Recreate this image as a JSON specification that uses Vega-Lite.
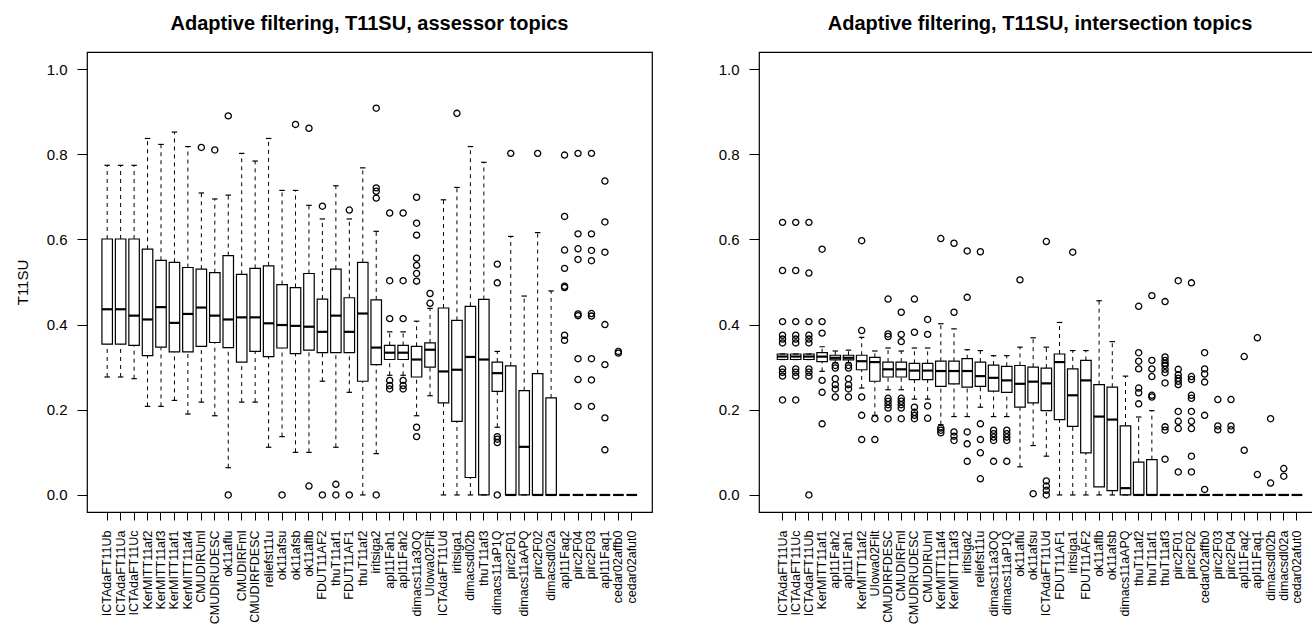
{
  "$schema": "https://vega.github.io/schema/vega-lite/v6.json",
  "background": "white",
  "padding": {"left": 14, "top": 13, "right": 0, "bottom": 0},
  "spacing": 64,
  "config": {
    "font": "Liberation Sans",
    "view": {"stroke": "black", "strokeWidth": 1.2},
    "axis": {"grid": false, "domain": false, "tickColor": "black", "labelColor": "black", "titleColor": "black", "labelFont": "Liberation Sans", "titleFont": "Liberation Sans", "titleFontWeight": "normal"},
    "axisY": {"tickSize": 10, "labelPadding": 10, "labelFontSize": 15, "titleFontSize": 15, "titlePadding": 16},
    "axisX": {"tickSize": 8, "labelPadding": 10, "labelFontSize": 12.5, "labelAngle": -90, "labelOverlap": false, "title": null},
    "title": {"fontSize": 20, "fontWeight": "bold", "font": "Liberation Sans", "color": "black", "anchor": "middle", "frame": "group", "offset": 18}
  },
  "datasets": {
    "boxA": [
      {"run": "ICTAdaFT11Ub", "lo": 0.277, "q1": 0.354, "med": 0.436, "q3": 0.601, "hi": 0.774},
      {"run": "ICTAdaFT11Ua", "lo": 0.277, "q1": 0.354, "med": 0.436, "q3": 0.601, "hi": 0.774},
      {"run": "ICTAdaFT11Uc", "lo": 0.273, "q1": 0.351, "med": 0.421, "q3": 0.601, "hi": 0.774},
      {"run": "KerMITT11af2", "lo": 0.208, "q1": 0.327, "med": 0.412, "q3": 0.577, "hi": 0.837},
      {"run": "KerMITT11af3", "lo": 0.208, "q1": 0.347, "med": 0.441, "q3": 0.551, "hi": 0.823},
      {"run": "KerMITT11af1", "lo": 0.222, "q1": 0.336, "med": 0.404, "q3": 0.546, "hi": 0.852},
      {"run": "KerMITT11af4", "lo": 0.190, "q1": 0.336, "med": 0.425, "q3": 0.534, "hi": 0.818},
      {"run": "CMUDIRUml", "lo": 0.218, "q1": 0.349, "med": 0.440, "q3": 0.530, "hi": 0.709},
      {"run": "CMUDIRUDESC", "lo": 0.186, "q1": 0.358, "med": 0.421, "q3": 0.522, "hi": 0.695},
      {"run": "ok11aflu", "lo": 0.064, "q1": 0.346, "med": 0.412, "q3": 0.562, "hi": 0.704},
      {"run": "CMUDIRFml", "lo": 0.218, "q1": 0.312, "med": 0.417, "q3": 0.518, "hi": 0.802},
      {"run": "CMUDIRFDESC", "lo": 0.218, "q1": 0.337, "med": 0.417, "q3": 0.532, "hi": 0.784},
      {"run": "reliefst11u", "lo": 0.112, "q1": 0.325, "med": 0.403, "q3": 0.538, "hi": 0.837},
      {"run": "ok11afsu", "lo": 0.137, "q1": 0.345, "med": 0.399, "q3": 0.494, "hi": 0.715},
      {"run": "ok11afsb", "lo": 0.100, "q1": 0.332, "med": 0.397, "q3": 0.487, "hi": 0.715},
      {"run": "ok11aflb", "lo": 0.100, "q1": 0.340, "med": 0.395, "q3": 0.520, "hi": 0.680},
      {"run": "FDUT11AF2", "lo": 0.267, "q1": 0.334, "med": 0.383, "q3": 0.460, "hi": 0.648},
      {"run": "thuT11af1", "lo": 0.112, "q1": 0.334, "med": 0.421, "q3": 0.530, "hi": 0.726},
      {"run": "FDUT11AF1", "lo": 0.241, "q1": 0.334, "med": 0.383, "q3": 0.463, "hi": 0.648},
      {"run": "thuT11af2", "lo": 0.0, "q1": 0.267, "med": 0.426, "q3": 0.546, "hi": 0.768},
      {"run": "iritsiga2", "lo": 0.097, "q1": 0.306, "med": 0.346, "q3": 0.458, "hi": 0.619},
      {"run": "apl11Fah1", "lo": 0.281, "q1": 0.318, "med": 0.334, "q3": 0.351, "hi": 0.383},
      {"run": "apl11Fah2", "lo": 0.281, "q1": 0.318, "med": 0.334, "q3": 0.351, "hi": 0.383},
      {"run": "dimacs11a3OQ", "lo": 0.186, "q1": 0.277, "med": 0.318, "q3": 0.349, "hi": 0.408},
      {"run": "UIowa02Filt", "lo": 0.233, "q1": 0.300, "med": 0.341, "q3": 0.357, "hi": 0.438},
      {"run": "ICTAdaFT11Ud", "lo": 0.0, "q1": 0.216, "med": 0.290, "q3": 0.439, "hi": 0.693},
      {"run": "iritsiga1", "lo": 0.0, "q1": 0.173, "med": 0.294, "q3": 0.410, "hi": 0.722},
      {"run": "dimacsdl02b", "lo": 0.0, "q1": 0.041, "med": 0.324, "q3": 0.443, "hi": 0.818},
      {"run": "thuT11af3", "lo": 0.0, "q1": 0.0, "med": 0.318, "q3": 0.459, "hi": 0.781},
      {"run": "dimacs11aP1Q", "lo": 0.159, "q1": 0.243, "med": 0.286, "q3": 0.312, "hi": 0.337},
      {"run": "pirc2F01", "lo": 0.0, "q1": 0.0, "med": 0.0, "q3": 0.303, "hi": 0.607},
      {"run": "dimacs11aAPQ", "lo": 0.0, "q1": 0.0, "med": 0.113, "q3": 0.245, "hi": 0.467},
      {"run": "pirc2F02", "lo": 0.0, "q1": 0.0, "med": 0.0, "q3": 0.285, "hi": 0.616},
      {"run": "dimacsdl02a", "lo": 0.0, "q1": 0.0, "med": 0.0, "q3": 0.228, "hi": 0.479},
      {"run": "apl11Faq2", "lo": 0.0, "q1": 0.0, "med": 0.0, "q3": 0.0, "hi": 0.0},
      {"run": "pirc2F04", "lo": 0.0, "q1": 0.0, "med": 0.0, "q3": 0.0, "hi": 0.0},
      {"run": "pirc2F03", "lo": 0.0, "q1": 0.0, "med": 0.0, "q3": 0.0, "hi": 0.0},
      {"run": "apl11Faq1", "lo": 0.0, "q1": 0.0, "med": 0.0, "q3": 0.0, "hi": 0.0},
      {"run": "cedar02affb0", "lo": 0.0, "q1": 0.0, "med": 0.0, "q3": 0.0, "hi": 0.0},
      {"run": "cedar02afut0", "lo": 0.0, "q1": 0.0, "med": 0.0, "q3": 0.0, "hi": 0.0}
    ],
    "outA": [
      {"run": "CMUDIRUml", "v": 0.816},
      {"run": "CMUDIRUDESC", "v": 0.810},
      {"run": "ok11aflu", "v": 0.890}, {"run": "ok11aflu", "v": 0.0},
      {"run": "ok11afsu", "v": 0.0},
      {"run": "ok11afsb", "v": 0.870},
      {"run": "ok11aflb", "v": 0.861}, {"run": "ok11aflb", "v": 0.021},
      {"run": "FDUT11AF2", "v": 0.678}, {"run": "FDUT11AF2", "v": 0.0},
      {"run": "thuT11af1", "v": 0.025}, {"run": "thuT11af1", "v": 0.0},
      {"run": "FDUT11AF1", "v": 0.669}, {"run": "FDUT11AF1", "v": 0.0},
      {"run": "iritsiga2", "v": 0.908}, {"run": "iritsiga2", "v": 0.721}, {"run": "iritsiga2", "v": 0.713}, {"run": "iritsiga2", "v": 0.697}, {"run": "iritsiga2", "v": 0.0},
      {"run": "apl11Fah1", "v": 0.662}, {"run": "apl11Fah1", "v": 0.503}, {"run": "apl11Fah1", "v": 0.414}, {"run": "apl11Fah1", "v": 0.269}, {"run": "apl11Fah1", "v": 0.257}, {"run": "apl11Fah1", "v": 0.249},
      {"run": "apl11Fah2", "v": 0.662}, {"run": "apl11Fah2", "v": 0.503}, {"run": "apl11Fah2", "v": 0.414}, {"run": "apl11Fah2", "v": 0.269}, {"run": "apl11Fah2", "v": 0.257}, {"run": "apl11Fah2", "v": 0.249},
      {"run": "dimacs11a3OQ", "v": 0.699}, {"run": "dimacs11a3OQ", "v": 0.638}, {"run": "dimacs11a3OQ", "v": 0.610}, {"run": "dimacs11a3OQ", "v": 0.556}, {"run": "dimacs11a3OQ", "v": 0.539}, {"run": "dimacs11a3OQ", "v": 0.520}, {"run": "dimacs11a3OQ", "v": 0.502}, {"run": "dimacs11a3OQ", "v": 0.159}, {"run": "dimacs11a3OQ", "v": 0.137},
      {"run": "UIowa02Filt", "v": 0.473}, {"run": "UIowa02Filt", "v": 0.450},
      {"run": "iritsiga1", "v": 0.896},
      {"run": "dimacs11aP1Q", "v": 0.542}, {"run": "dimacs11aP1Q", "v": 0.498}, {"run": "dimacs11aP1Q", "v": 0.137}, {"run": "dimacs11aP1Q", "v": 0.131}, {"run": "dimacs11aP1Q", "v": 0.123}, {"run": "dimacs11aP1Q", "v": 0.0},
      {"run": "pirc2F01", "v": 0.802},
      {"run": "pirc2F02", "v": 0.802},
      {"run": "apl11Faq2", "v": 0.798}, {"run": "apl11Faq2", "v": 0.654}, {"run": "apl11Faq2", "v": 0.575}, {"run": "apl11Faq2", "v": 0.532}, {"run": "apl11Faq2", "v": 0.490}, {"run": "apl11Faq2", "v": 0.487}, {"run": "apl11Faq2", "v": 0.375}, {"run": "apl11Faq2", "v": 0.363},
      {"run": "pirc2F04", "v": 0.802}, {"run": "pirc2F04", "v": 0.613}, {"run": "pirc2F04", "v": 0.578}, {"run": "pirc2F04", "v": 0.553}, {"run": "pirc2F04", "v": 0.425}, {"run": "pirc2F04", "v": 0.421}, {"run": "pirc2F04", "v": 0.320}, {"run": "pirc2F04", "v": 0.271}, {"run": "pirc2F04", "v": 0.208},
      {"run": "pirc2F03", "v": 0.802}, {"run": "pirc2F03", "v": 0.613}, {"run": "pirc2F03", "v": 0.574}, {"run": "pirc2F03", "v": 0.550}, {"run": "pirc2F03", "v": 0.426}, {"run": "pirc2F03", "v": 0.420}, {"run": "pirc2F03", "v": 0.320}, {"run": "pirc2F03", "v": 0.270}, {"run": "pirc2F03", "v": 0.208},
      {"run": "apl11Faq1", "v": 0.737}, {"run": "apl11Faq1", "v": 0.641}, {"run": "apl11Faq1", "v": 0.570}, {"run": "apl11Faq1", "v": 0.400}, {"run": "apl11Faq1", "v": 0.306}, {"run": "apl11Faq1", "v": 0.181}, {"run": "apl11Faq1", "v": 0.106},
      {"run": "cedar02affb0", "v": 0.337}, {"run": "cedar02affb0", "v": 0.333}
    ],
    "boxI": [
      {"run": "ICTAdaFT11Ua", "lo": 0.318, "q1": 0.318, "med": 0.325, "q3": 0.331, "hi": 0.331},
      {"run": "ICTAdaFT11Uc", "lo": 0.318, "q1": 0.318, "med": 0.325, "q3": 0.331, "hi": 0.331},
      {"run": "ICTAdaFT11Ub", "lo": 0.318, "q1": 0.318, "med": 0.325, "q3": 0.331, "hi": 0.331},
      {"run": "KerMITT11af1", "lo": 0.290, "q1": 0.313, "med": 0.325, "q3": 0.334, "hi": 0.348},
      {"run": "apl11Fah2", "lo": 0.310, "q1": 0.317, "med": 0.322, "q3": 0.328, "hi": 0.338},
      {"run": "apl11Fah1", "lo": 0.310, "q1": 0.317, "med": 0.322, "q3": 0.328, "hi": 0.340},
      {"run": "KerMITT11af2", "lo": 0.251, "q1": 0.294, "med": 0.314, "q3": 0.328, "hi": 0.370},
      {"run": "UIowa02Filt", "lo": 0.187, "q1": 0.267, "med": 0.312, "q3": 0.323, "hi": 0.338},
      {"run": "CMUDIRFDESC", "lo": 0.247, "q1": 0.277, "med": 0.295, "q3": 0.312, "hi": 0.345},
      {"run": "CMUDIRFml", "lo": 0.247, "q1": 0.277, "med": 0.295, "q3": 0.312, "hi": 0.338},
      {"run": "CMUDIRUDESC", "lo": 0.225, "q1": 0.271, "med": 0.292, "q3": 0.309, "hi": 0.345},
      {"run": "CMUDIRUml", "lo": 0.225, "q1": 0.271, "med": 0.292, "q3": 0.309, "hi": 0.345},
      {"run": "KerMITT11af4", "lo": 0.165, "q1": 0.255, "med": 0.291, "q3": 0.314, "hi": 0.402},
      {"run": "KerMITT11af3", "lo": 0.184, "q1": 0.261, "med": 0.291, "q3": 0.314, "hi": 0.390},
      {"run": "iritsiga2", "lo": 0.184, "q1": 0.253, "med": 0.291, "q3": 0.320, "hi": 0.341},
      {"run": "reliefst11u", "lo": 0.206, "q1": 0.255, "med": 0.279, "q3": 0.312, "hi": 0.339},
      {"run": "dimacs11a3OQ", "lo": 0.184, "q1": 0.244, "med": 0.275, "q3": 0.305, "hi": 0.327},
      {"run": "dimacs11aP1Q", "lo": 0.184, "q1": 0.241, "med": 0.269, "q3": 0.302, "hi": 0.327},
      {"run": "ok11aflu", "lo": 0.066, "q1": 0.206, "med": 0.261, "q3": 0.304, "hi": 0.347},
      {"run": "ok11afsu", "lo": 0.116, "q1": 0.216, "med": 0.266, "q3": 0.300, "hi": 0.369},
      {"run": "ICTAdaFT11Ud", "lo": 0.091, "q1": 0.198, "med": 0.262, "q3": 0.298, "hi": 0.347},
      {"run": "FDUT11AF1", "lo": 0.0, "q1": 0.177, "med": 0.312, "q3": 0.331, "hi": 0.405},
      {"run": "iritsiga1", "lo": 0.0, "q1": 0.161, "med": 0.234, "q3": 0.296, "hi": 0.339},
      {"run": "FDUT11AF2", "lo": 0.0, "q1": 0.099, "med": 0.269, "q3": 0.316, "hi": 0.339},
      {"run": "ok11aflb", "lo": 0.0, "q1": 0.019, "med": 0.184, "q3": 0.259, "hi": 0.456},
      {"run": "ok11afsb", "lo": 0.0, "q1": 0.010, "med": 0.177, "q3": 0.253, "hi": 0.360},
      {"run": "dimacs11aAPQ", "lo": 0.0, "q1": 0.0, "med": 0.016, "q3": 0.162, "hi": 0.279},
      {"run": "thuT11af2", "lo": 0.0, "q1": 0.0, "med": 0.0, "q3": 0.077, "hi": 0.183},
      {"run": "thuT11af1", "lo": 0.0, "q1": 0.0, "med": 0.0, "q3": 0.083, "hi": 0.198},
      {"run": "thuT11af3", "lo": 0.0, "q1": 0.0, "med": 0.0, "q3": 0.0, "hi": 0.0},
      {"run": "pirc2F01", "lo": 0.0, "q1": 0.0, "med": 0.0, "q3": 0.0, "hi": 0.0},
      {"run": "pirc2F02", "lo": 0.0, "q1": 0.0, "med": 0.0, "q3": 0.0, "hi": 0.0},
      {"run": "cedar02affb0", "lo": 0.0, "q1": 0.0, "med": 0.0, "q3": 0.0, "hi": 0.0},
      {"run": "pirc2F03", "lo": 0.0, "q1": 0.0, "med": 0.0, "q3": 0.0, "hi": 0.0},
      {"run": "pirc2F04", "lo": 0.0, "q1": 0.0, "med": 0.0, "q3": 0.0, "hi": 0.0},
      {"run": "apl11Faq2", "lo": 0.0, "q1": 0.0, "med": 0.0, "q3": 0.0, "hi": 0.0},
      {"run": "apl11Faq1", "lo": 0.0, "q1": 0.0, "med": 0.0, "q3": 0.0, "hi": 0.0},
      {"run": "dimacsdl02b", "lo": 0.0, "q1": 0.0, "med": 0.0, "q3": 0.0, "hi": 0.0},
      {"run": "dimacsdl02a", "lo": 0.0, "q1": 0.0, "med": 0.0, "q3": 0.0, "hi": 0.0},
      {"run": "cedar02afut0", "lo": 0.0, "q1": 0.0, "med": 0.0, "q3": 0.0, "hi": 0.0}
    ],
    "outI": [
      {"run": "ICTAdaFT11Ua", "v": 0.640}, {"run": "ICTAdaFT11Ua", "v": 0.527}, {"run": "ICTAdaFT11Ua", "v": 0.407}, {"run": "ICTAdaFT11Ua", "v": 0.375}, {"run": "ICTAdaFT11Ua", "v": 0.366}, {"run": "ICTAdaFT11Ua", "v": 0.357}, {"run": "ICTAdaFT11Ua", "v": 0.296}, {"run": "ICTAdaFT11Ua", "v": 0.288}, {"run": "ICTAdaFT11Ua", "v": 0.279}, {"run": "ICTAdaFT11Ua", "v": 0.223},
      {"run": "ICTAdaFT11Uc", "v": 0.640}, {"run": "ICTAdaFT11Uc", "v": 0.527}, {"run": "ICTAdaFT11Uc", "v": 0.407}, {"run": "ICTAdaFT11Uc", "v": 0.375}, {"run": "ICTAdaFT11Uc", "v": 0.366}, {"run": "ICTAdaFT11Uc", "v": 0.357}, {"run": "ICTAdaFT11Uc", "v": 0.296}, {"run": "ICTAdaFT11Uc", "v": 0.288}, {"run": "ICTAdaFT11Uc", "v": 0.279}, {"run": "ICTAdaFT11Uc", "v": 0.223},
      {"run": "ICTAdaFT11Ub", "v": 0.640}, {"run": "ICTAdaFT11Ub", "v": 0.521}, {"run": "ICTAdaFT11Ub", "v": 0.407}, {"run": "ICTAdaFT11Ub", "v": 0.375}, {"run": "ICTAdaFT11Ub", "v": 0.366}, {"run": "ICTAdaFT11Ub", "v": 0.357}, {"run": "ICTAdaFT11Ub", "v": 0.296}, {"run": "ICTAdaFT11Ub", "v": 0.288}, {"run": "ICTAdaFT11Ub", "v": 0.279}, {"run": "ICTAdaFT11Ub", "v": 0.0},
      {"run": "KerMITT11af1", "v": 0.577}, {"run": "KerMITT11af1", "v": 0.407}, {"run": "KerMITT11af1", "v": 0.380}, {"run": "KerMITT11af1", "v": 0.269}, {"run": "KerMITT11af1", "v": 0.241}, {"run": "KerMITT11af1", "v": 0.167},
      {"run": "apl11Fah2", "v": 0.304}, {"run": "apl11Fah2", "v": 0.298}, {"run": "apl11Fah2", "v": 0.273}, {"run": "apl11Fah2", "v": 0.259}, {"run": "apl11Fah2", "v": 0.249}, {"run": "apl11Fah2", "v": 0.230},
      {"run": "apl11Fah1", "v": 0.304}, {"run": "apl11Fah1", "v": 0.298}, {"run": "apl11Fah1", "v": 0.273}, {"run": "apl11Fah1", "v": 0.259}, {"run": "apl11Fah1", "v": 0.249}, {"run": "apl11Fah1", "v": 0.230},
      {"run": "KerMITT11af2", "v": 0.597}, {"run": "KerMITT11af2", "v": 0.386}, {"run": "KerMITT11af2", "v": 0.230}, {"run": "KerMITT11af2", "v": 0.187}, {"run": "KerMITT11af2", "v": 0.130},
      {"run": "UIowa02Filt", "v": 0.179}, {"run": "UIowa02Filt", "v": 0.130},
      {"run": "CMUDIRFDESC", "v": 0.460}, {"run": "CMUDIRFDESC", "v": 0.378}, {"run": "CMUDIRFDESC", "v": 0.372}, {"run": "CMUDIRFDESC", "v": 0.227}, {"run": "CMUDIRFDESC", "v": 0.220}, {"run": "CMUDIRFDESC", "v": 0.212}, {"run": "CMUDIRFDESC", "v": 0.204}, {"run": "CMUDIRFDESC", "v": 0.179},
      {"run": "CMUDIRFml", "v": 0.429}, {"run": "CMUDIRFml", "v": 0.377}, {"run": "CMUDIRFml", "v": 0.360}, {"run": "CMUDIRFml", "v": 0.227}, {"run": "CMUDIRFml", "v": 0.220}, {"run": "CMUDIRFml", "v": 0.212}, {"run": "CMUDIRFml", "v": 0.204}, {"run": "CMUDIRFml", "v": 0.179},
      {"run": "CMUDIRUDESC", "v": 0.460}, {"run": "CMUDIRUDESC", "v": 0.382}, {"run": "CMUDIRUDESC", "v": 0.206}, {"run": "CMUDIRUDESC", "v": 0.194}, {"run": "CMUDIRUDESC", "v": 0.187}, {"run": "CMUDIRUDESC", "v": 0.179},
      {"run": "CMUDIRUml", "v": 0.412}, {"run": "CMUDIRUml", "v": 0.377}, {"run": "CMUDIRUml", "v": 0.209}, {"run": "CMUDIRUml", "v": 0.180},
      {"run": "KerMITT11af4", "v": 0.602}, {"run": "KerMITT11af4", "v": 0.157}, {"run": "KerMITT11af4", "v": 0.152}, {"run": "KerMITT11af4", "v": 0.146},
      {"run": "KerMITT11af3", "v": 0.591}, {"run": "KerMITT11af3", "v": 0.429}, {"run": "KerMITT11af3", "v": 0.148}, {"run": "KerMITT11af3", "v": 0.138}, {"run": "KerMITT11af3", "v": 0.128},
      {"run": "iritsiga2", "v": 0.573}, {"run": "iritsiga2", "v": 0.464}, {"run": "iritsiga2", "v": 0.148}, {"run": "iritsiga2", "v": 0.120}, {"run": "iritsiga2", "v": 0.079},
      {"run": "reliefst11u", "v": 0.571}, {"run": "reliefst11u", "v": 0.167}, {"run": "reliefst11u", "v": 0.130}, {"run": "reliefst11u", "v": 0.099}, {"run": "reliefst11u", "v": 0.038},
      {"run": "dimacs11a3OQ", "v": 0.152}, {"run": "dimacs11a3OQ", "v": 0.144}, {"run": "dimacs11a3OQ", "v": 0.136}, {"run": "dimacs11a3OQ", "v": 0.128}, {"run": "dimacs11a3OQ", "v": 0.079},
      {"run": "dimacs11aP1Q", "v": 0.152}, {"run": "dimacs11aP1Q", "v": 0.144}, {"run": "dimacs11aP1Q", "v": 0.136}, {"run": "dimacs11aP1Q", "v": 0.128}, {"run": "dimacs11aP1Q", "v": 0.079},
      {"run": "ok11aflu", "v": 0.505},
      {"run": "ok11afsu", "v": 0.003},
      {"run": "ICTAdaFT11Ud", "v": 0.595}, {"run": "ICTAdaFT11Ud", "v": 0.033}, {"run": "ICTAdaFT11Ud", "v": 0.021}, {"run": "ICTAdaFT11Ud", "v": 0.011}, {"run": "ICTAdaFT11Ud", "v": 0.0},
      {"run": "iritsiga1", "v": 0.570},
      {"run": "thuT11af2", "v": 0.443}, {"run": "thuT11af2", "v": 0.334}, {"run": "thuT11af2", "v": 0.314}, {"run": "thuT11af2", "v": 0.296}, {"run": "thuT11af2", "v": 0.251}, {"run": "thuT11af2", "v": 0.240}, {"run": "thuT11af2", "v": 0.214},
      {"run": "thuT11af1", "v": 0.468}, {"run": "thuT11af1", "v": 0.316}, {"run": "thuT11af1", "v": 0.296}, {"run": "thuT11af1", "v": 0.278}, {"run": "thuT11af1", "v": 0.234}, {"run": "thuT11af1", "v": 0.230},
      {"run": "thuT11af3", "v": 0.454}, {"run": "thuT11af3", "v": 0.324}, {"run": "thuT11af3", "v": 0.316}, {"run": "thuT11af3", "v": 0.309}, {"run": "thuT11af3", "v": 0.304}, {"run": "thuT11af3", "v": 0.295}, {"run": "thuT11af3", "v": 0.287}, {"run": "thuT11af3", "v": 0.263}, {"run": "thuT11af3", "v": 0.160}, {"run": "thuT11af3", "v": 0.152}, {"run": "thuT11af3", "v": 0.084},
      {"run": "pirc2F01", "v": 0.503}, {"run": "pirc2F01", "v": 0.295}, {"run": "pirc2F01", "v": 0.282}, {"run": "pirc2F01", "v": 0.274}, {"run": "pirc2F01", "v": 0.267}, {"run": "pirc2F01", "v": 0.259}, {"run": "pirc2F01", "v": 0.196}, {"run": "pirc2F01", "v": 0.173}, {"run": "pirc2F01", "v": 0.156}, {"run": "pirc2F01", "v": 0.054},
      {"run": "pirc2F02", "v": 0.498}, {"run": "pirc2F02", "v": 0.278}, {"run": "pirc2F02", "v": 0.271}, {"run": "pirc2F02", "v": 0.234}, {"run": "pirc2F02", "v": 0.227}, {"run": "pirc2F02", "v": 0.196}, {"run": "pirc2F02", "v": 0.173}, {"run": "pirc2F02", "v": 0.156}, {"run": "pirc2F02", "v": 0.091}, {"run": "pirc2F02", "v": 0.054},
      {"run": "cedar02affb0", "v": 0.334}, {"run": "cedar02affb0", "v": 0.296}, {"run": "cedar02affb0", "v": 0.284}, {"run": "cedar02affb0", "v": 0.265}, {"run": "cedar02affb0", "v": 0.187}, {"run": "cedar02affb0", "v": 0.013},
      {"run": "pirc2F03", "v": 0.224}, {"run": "pirc2F03", "v": 0.162}, {"run": "pirc2F03", "v": 0.153},
      {"run": "pirc2F04", "v": 0.224}, {"run": "pirc2F04", "v": 0.162}, {"run": "pirc2F04", "v": 0.153},
      {"run": "apl11Faq2", "v": 0.325}, {"run": "apl11Faq2", "v": 0.105},
      {"run": "apl11Faq1", "v": 0.369}, {"run": "apl11Faq1", "v": 0.048},
      {"run": "dimacsdl02b", "v": 0.179}, {"run": "dimacsdl02b", "v": 0.028},
      {"run": "dimacsdl02a", "v": 0.062}, {"run": "dimacsdl02a", "v": 0.044}
    ]
  },
  "hconcat": [
    {
      "title": "Adaptive filtering, T11SU, assessor topics",
      "width": 565,
      "height": 460,
      "layer": [
        {
          "encoding": {
            "x": {"field": "run", "type": "nominal", "scale": {"type": "band", "paddingInner": 0, "paddingOuter": 1.615, "domain": ["ICTAdaFT11Ub", "ICTAdaFT11Ua", "ICTAdaFT11Uc", "KerMITT11af2", "KerMITT11af3", "KerMITT11af1", "KerMITT11af4", "CMUDIRUml", "CMUDIRUDESC", "ok11aflu", "CMUDIRFml", "CMUDIRFDESC", "reliefst11u", "ok11afsu", "ok11afsb", "ok11aflb", "FDUT11AF2", "thuT11af1", "FDUT11AF1", "thuT11af2", "iritsiga2", "apl11Fah1", "apl11Fah2", "dimacs11a3OQ", "UIowa02Filt", "ICTAdaFT11Ud", "iritsiga1", "dimacsdl02b", "thuT11af3", "dimacs11aP1Q", "pirc2F01", "dimacs11aAPQ", "pirc2F02", "dimacsdl02a", "apl11Faq2", "pirc2F04", "pirc2F03", "apl11Faq1", "cedar02affb0", "cedar02afut0"]}, "title": null}
          },
          "layer": [
            {"data": {"name": "boxA"}, "mark": {"type": "rule", "color": "black", "strokeDash": [4, 4], "strokeWidth": 1}, "encoding": {"y": {"field": "q3", "type": "quantitative", "title": "T11SU", "scale": {"domain": [-0.04, 1.04], "nice": false, "zero": false}, "axis": {"values": [0, 0.2, 0.4, 0.6, 0.8, 1.0], "format": ".1f"}}, "y2": {"field": "hi"}}},
            {"data": {"name": "boxA"}, "mark": {"type": "rule", "color": "black", "strokeDash": [4, 4], "strokeWidth": 1}, "encoding": {"y": {"field": "lo", "type": "quantitative", "title": "T11SU", "scale": {"domain": [-0.04, 1.04], "nice": false, "zero": false}, "axis": {"values": [0, 0.2, 0.4, 0.6, 0.8, 1.0], "format": ".1f"}}, "y2": {"field": "q1"}}},
            {"data": {"name": "boxA"}, "mark": {"type": "bar", "size": 10.5, "fill": "white", "stroke": "black", "strokeWidth": 1.2, "opacity": 1}, "encoding": {"y": {"field": "q1", "type": "quantitative", "title": "T11SU", "scale": {"domain": [-0.04, 1.04], "nice": false, "zero": false}, "axis": {"values": [0, 0.2, 0.4, 0.6, 0.8, 1.0], "format": ".1f"}}, "y2": {"field": "q3"}}},
            {"data": {"name": "boxA"}, "mark": {"type": "tick", "size": 10.5, "thickness": 2.2, "color": "black", "opacity": 1}, "encoding": {"y": {"field": "med", "type": "quantitative", "title": "T11SU", "scale": {"domain": [-0.04, 1.04], "nice": false, "zero": false}, "axis": {"values": [0, 0.2, 0.4, 0.6, 0.8, 1.0], "format": ".1f"}}}},
            {"data": {"name": "boxA"}, "mark": {"type": "tick", "size": 5.5, "thickness": 1.2, "color": "black", "opacity": 1}, "encoding": {"y": {"field": "hi", "type": "quantitative", "title": "T11SU", "scale": {"domain": [-0.04, 1.04], "nice": false, "zero": false}, "axis": {"values": [0, 0.2, 0.4, 0.6, 0.8, 1.0], "format": ".1f"}}}},
            {"data": {"name": "boxA"}, "mark": {"type": "tick", "size": 5.5, "thickness": 1.2, "color": "black", "opacity": 1}, "encoding": {"y": {"field": "lo", "type": "quantitative", "title": "T11SU", "scale": {"domain": [-0.04, 1.04], "nice": false, "zero": false}, "axis": {"values": [0, 0.2, 0.4, 0.6, 0.8, 1.0], "format": ".1f"}}}},
            {"data": {"name": "outA"}, "mark": {"type": "point", "shape": "circle", "filled": false, "size": 38, "strokeWidth": 1.3, "color": "black", "opacity": 1}, "encoding": {"y": {"field": "v", "type": "quantitative", "title": "T11SU", "scale": {"domain": [-0.04, 1.04], "nice": false, "zero": false}, "axis": {"values": [0, 0.2, 0.4, 0.6, 0.8, 1.0], "format": ".1f"}}}}
          ]
        },
        {"mark": {"type": "rule", "color": "#b3b3b3", "strokeWidth": 1}, "encoding": {"y": {"datum": 0.3333, "type": "quantitative"}}}
      ]
    },
    {
      "title": {"text": "Adaptive filtering, T11SU, intersection topics", "dx": 4},
      "width": 554,
      "height": 460,
      "layer": [
        {
          "encoding": {
            "x": {"field": "run", "type": "nominal", "scale": {"type": "band", "paddingInner": 0, "paddingOuter": 1.24, "align": 0.642, "domain": ["ICTAdaFT11Ua", "ICTAdaFT11Uc", "ICTAdaFT11Ub", "KerMITT11af1", "apl11Fah2", "apl11Fah1", "KerMITT11af2", "UIowa02Filt", "CMUDIRFDESC", "CMUDIRFml", "CMUDIRUDESC", "CMUDIRUml", "KerMITT11af4", "KerMITT11af3", "iritsiga2", "reliefst11u", "dimacs11a3OQ", "dimacs11aP1Q", "ok11aflu", "ok11afsu", "ICTAdaFT11Ud", "FDUT11AF1", "iritsiga1", "FDUT11AF2", "ok11aflb", "ok11afsb", "dimacs11aAPQ", "thuT11af2", "thuT11af1", "thuT11af3", "pirc2F01", "pirc2F02", "cedar02affb0", "pirc2F03", "pirc2F04", "apl11Faq2", "apl11Faq1", "dimacsdl02b", "dimacsdl02a", "cedar02afut0"]}, "title": null}
          },
          "layer": [
            {"data": {"name": "boxI"}, "mark": {"type": "rule", "color": "black", "strokeDash": [4, 4], "strokeWidth": 1}, "encoding": {"y": {"field": "q3", "type": "quantitative", "title": null, "scale": {"domain": [-0.04, 1.04], "nice": false, "zero": false}, "axis": {"values": [0, 0.2, 0.4, 0.6, 0.8, 1.0], "format": ".1f"}}, "y2": {"field": "hi"}}},
            {"data": {"name": "boxI"}, "mark": {"type": "rule", "color": "black", "strokeDash": [4, 4], "strokeWidth": 1}, "encoding": {"y": {"field": "lo", "type": "quantitative", "title": null, "scale": {"domain": [-0.04, 1.04], "nice": false, "zero": false}, "axis": {"values": [0, 0.2, 0.4, 0.6, 0.8, 1.0], "format": ".1f"}}, "y2": {"field": "q1"}}},
            {"data": {"name": "boxI"}, "mark": {"type": "bar", "size": 10.5, "fill": "white", "stroke": "black", "strokeWidth": 1.2, "opacity": 1}, "encoding": {"y": {"field": "q1", "type": "quantitative", "title": null, "scale": {"domain": [-0.04, 1.04], "nice": false, "zero": false}, "axis": {"values": [0, 0.2, 0.4, 0.6, 0.8, 1.0], "format": ".1f"}}, "y2": {"field": "q3"}}},
            {"data": {"name": "boxI"}, "mark": {"type": "tick", "size": 10.5, "thickness": 2.2, "color": "black", "opacity": 1}, "encoding": {"y": {"field": "med", "type": "quantitative", "title": null, "scale": {"domain": [-0.04, 1.04], "nice": false, "zero": false}, "axis": {"values": [0, 0.2, 0.4, 0.6, 0.8, 1.0], "format": ".1f"}}}},
            {"data": {"name": "boxI"}, "mark": {"type": "tick", "size": 5.5, "thickness": 1.2, "color": "black", "opacity": 1}, "encoding": {"y": {"field": "hi", "type": "quantitative", "title": null, "scale": {"domain": [-0.04, 1.04], "nice": false, "zero": false}, "axis": {"values": [0, 0.2, 0.4, 0.6, 0.8, 1.0], "format": ".1f"}}}},
            {"data": {"name": "boxI"}, "mark": {"type": "tick", "size": 5.5, "thickness": 1.2, "color": "black", "opacity": 1}, "encoding": {"y": {"field": "lo", "type": "quantitative", "title": null, "scale": {"domain": [-0.04, 1.04], "nice": false, "zero": false}, "axis": {"values": [0, 0.2, 0.4, 0.6, 0.8, 1.0], "format": ".1f"}}}},
            {"data": {"name": "outI"}, "mark": {"type": "point", "shape": "circle", "filled": false, "size": 38, "strokeWidth": 1.3, "color": "black", "opacity": 1}, "encoding": {"y": {"field": "v", "type": "quantitative", "title": null, "scale": {"domain": [-0.04, 1.04], "nice": false, "zero": false}, "axis": {"values": [0, 0.2, 0.4, 0.6, 0.8, 1.0], "format": ".1f"}}}}
          ]
        },
        {"mark": {"type": "rule", "color": "#b3b3b3", "strokeWidth": 1}, "encoding": {"y": {"datum": 0.3333, "type": "quantitative"}}}
      ]
    }
  ]
}
